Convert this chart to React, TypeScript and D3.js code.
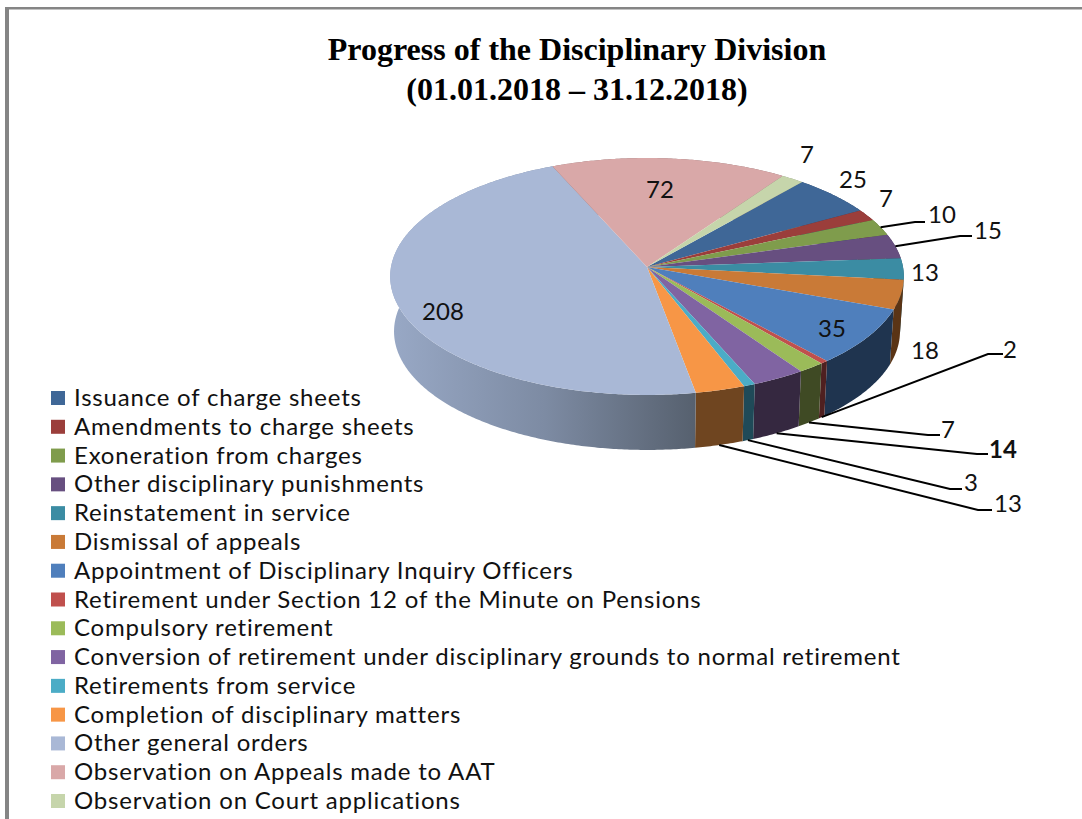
import React from 'react';
import * as d3 from 'd3';

const categories = [
  'Issuance of charge sheets',
  'Amendments to charge sheets',
  'Exoneration from charges',
  'Other disciplinary punishments',
  'Reinstatement in service',
  'Dismissal of appeals',
  'Appointment of Disciplinary Inquiry Officers',
  'Retirement under Section 12 of the Minute on Pensions',
  'Compulsory retirement',
  'Conversion of retirement under disciplinary grounds to normal retirement',
  'Retirements from service',
  'Completion of disciplinary matters',
  'Other general orders',
  'Observation on Appeals made to AAT',
  'Observation on Court applications',
];
const values = [25, 7, 10, 15, 13, 18, 35, 2, 7, 14, 3, 13, 208, 72, 7];
const topColors = ['#3f6797', '#9b3e3b', '#7f9c4c', '#674f80', '#3b8ca3', '#c97a37', '#4f7fbc', '#c0504d', '#9bbb59', '#8064a2', '#4bacc6', '#f79646', '#a9b8d6', '#d9a8a8', '#c6d5ab'];
const sideColors = ['#2a4465', '#672927', '#556832', '#453555', '#275d6d', '#5a3415', '#1f344f', '#4f2020', '#3f4a24', '#352840', '#1f4a58', '#6f4520', 'url(#sideGrad)', '#8f6f6f', '#83907a'];

// label anchor for every slice, in the same order as values
const labelX = [853, 886, 942, 988, 925, 925, 832, 1010, 948, 1003, 971, 1008, 443, 660, 807];
const labelY = [178, 197, 213, 229, 271, 349, 327, 348, 428, 448, 481, 502, 310, 188, 153];

// leader lines: slice index, elbow start x,y, end x
const leaders: [number, number, number, number][] = [
  [2, 915, 222, 925],
  [3, 960, 236, 972],
  [7, 988, 354, 1003],
  [8, 928, 435, 940],
  [9, 977, 454, 988],
  [10, 950, 489, 962],
  [11, 978, 510, 992],
];

const cx = 647;
const cy = 267;
const R = 256;
const S = 117.7;
const P = 0.08;
const depth = 55;

// perspective projection of a point on the pie rim, angle clockwise from top
function rim(a: number, bottom = false): [number, number] {
  const u = Math.sin(a);
  const v = Math.cos(a);
  const w = 1 + P * v;
  const k = bottom ? 0.985 : 1;
  return [cx + (k * R * u) / w, cy - (S * v) / w + (bottom ? depth : 0)];
}

function arcPoints(a0: number, a1: number, bottom = false) {
  const n = Math.max(2, Math.ceil(Math.abs(a1 - a0) / 0.01));
  return d3.range(n + 1).map((i) => rim(a0 + ((a1 - a0) * i) / n, bottom));
}

const rad = Math.PI / 180;
const slices = d3
  .pie<number>()
  .sort(null)
  .value((d) => d)
  .startAngle(40 * rad)
  .endAngle(400 * rad)(values);

const path = d3.line();
const legendY = d3.scaleLinear().domain([0, 14]).range([398, 801]);

export default function App() {
  return (
    <svg width={1082} height={819} style={{ position: 'absolute', left: 0, top: 0, background: '#fff' }}>
      <defs>
        <linearGradient id="sideGrad" gradientUnits="userSpaceOnUse" x1={393} x2={697} y1={0} y2={0}>
          <stop offset="0" stopColor="#98a8c5" />
          <stop offset="0.5" stopColor="#7d8ba3" />
          <stop offset="1" stopColor="#56606e" />
        </linearGradient>
      </defs>

      <rect x={5} y={7} width={1077} height={2.5} fill="#858585" />
      <rect x={5} y={7} width={4} height={812} fill="#858585" />

      <g fontFamily="'Liberation Serif', serif" fontWeight="bold" fontSize={32} textAnchor="middle" fill="#000">
        <text x={577} y={60}>Progress of the Disciplinary Division</text>
        <text x={577} y={100}>(01.01.2018 – 31.12.2018)</text>
      </g>

      {slices.map((s, i) => (
        <path
          key={'side' + i}
          d={(path([...arcPoints(s.startAngle, s.endAngle), ...arcPoints(s.endAngle, s.startAngle, true)]) ?? '') + 'Z'}
          fill={sideColors[i]}
        />
      ))}
      {slices.map((s, i) => (
        <path
          key={'top' + i}
          d={(path([[cx, cy], ...arcPoints(s.startAngle, s.endAngle)]) ?? '') + 'Z'}
          fill={topColors[i]}
        />
      ))}

      {leaders.map(([i, ex, ey, endX]) => {
        const mid = (slices[i].startAngle + slices[i].endAngle) / 2;
        const start = i === 2 || i === 3 ? rim(mid) : rim(mid, true);
        return (
          <path key={'lead' + i} d={path([start, [ex, ey], [endX, ey]]) ?? ''} fill="none" stroke="#000" strokeWidth={2} />
        );
      })}

      <g fontFamily="Lato, sans-serif" fontSize={24} fill="#111" textAnchor="middle" dominantBaseline="central">
        {values.map((v, i) => (
          <text key={'lab' + i} x={labelX[i]} y={labelY[i]} fontWeight={v === 14 ? 'bold' : 'normal'}>
            {v}
          </text>
        ))}
      </g>

      {categories.map((c, i) => (
        <g key={c}>
          <rect x={51} y={legendY(i) - 7} width={14} height={14} fill={topColors[i]} />
          <text x={74} y={legendY(i) + 8} fontFamily="Lato, sans-serif" fontSize={24} letterSpacing={0.8} fill="#111">
            {c}
          </text>
        </g>
      ))}
    </svg>
  );
}
